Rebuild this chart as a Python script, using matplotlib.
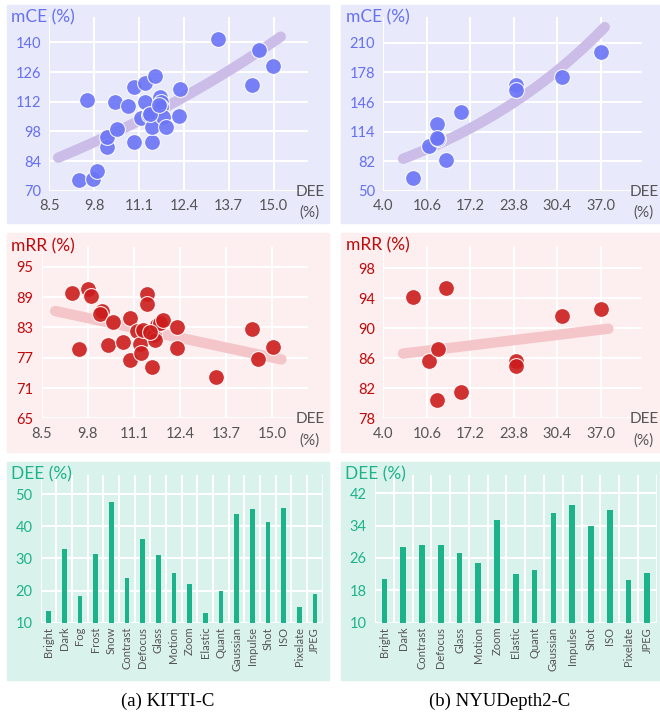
import matplotlib
matplotlib.use("Agg")
import matplotlib.pyplot as plt
import numpy as np
from matplotlib.patches import Rectangle

plt.rcParams['font.family'] = ['Lato', 'DejaVu Sans']

# KITTI-C scatter data (DEE %, mCE %, mRR %)
kitti_dee_ce = [13.38, 14.59, 14.99, 14.39, 9.60, 9.37, 9.77, 9.89, 10.18, 10.18, 10.46, 10.40, 10.78,
                10.97, 11.28, 11.57, 10.97, 11.49, 11.17, 11.28, 11.38, 11.49, 11.70, 11.74, 11.74,
                11.79, 11.89, 12.29, 12.27, 11.43, 11.69]
kitti_mce = [141.6, 136.4, 129.0, 119.7, 112.8, 75.0, 75.5, 79.4, 90.8, 95.5, 98.9, 112.0, 110.0,
             118.8, 120.7, 124.3, 93.1, 93.1, 104.1, 112.0, 105.7, 100.2, 114.4, 112.0, 109.6,
             104.9, 100.2, 117.8, 105.4, 106.2, 110.4]
kitti_dee_rr = [9.34, 9.79, 9.88, 9.56, 10.19, 10.14, 10.50, 10.38, 10.80, 10.99, 10.99, 11.17, 11.27,
                11.31, 11.47, 11.47, 11.60, 11.36, 11.66, 11.69, 11.74, 11.83, 11.92, 12.30, 12.30,
                13.41, 14.43, 14.58, 15.02, 11.55]
kitti_mrr = [89.9, 90.7, 89.3, 78.7, 86.2, 85.6, 84.0, 79.5, 80.2, 84.8, 76.5, 82.3, 79.8,
             77.9, 89.7, 87.6, 75.2, 82.5, 81.5, 80.5, 83.5, 83.8, 84.4, 83.1, 79.0,
             73.1, 82.6, 76.7, 79.2, 82.0]

# NYUDepth2-C scatter data
nyu_dee = [8.49, 10.98, 12.08, 12.37, 12.20, 13.47, 15.72, 24.19, 24.19, 31.07, 37.0]
nyu_mce = [63.4, 98.9, 122.4, 106.1, 107.5, 82.9, 134.7, 164.0, 159.3, 173.4, 199.9]
nyu_dee_rr = [8.49, 13.47, 10.98, 12.37, 12.08, 15.81, 24.19, 24.19, 31.07, 37.0]
nyu_mrr = [94.15, 95.3, 85.6, 87.2, 80.5, 81.5, 85.6, 85.0, 91.6, 92.5]

# per-corruption DEE
kitti_corr = ['Bright', 'Dark', 'Fog', 'Frost', 'Snow', 'Contrast', 'Defocus', 'Glass', 'Motion',
              'Zoom', 'Elastic', 'Quant', 'Gaussian', 'Impulse', 'Shot', 'ISO', 'Pixelate', 'JPEG']
kitti_dee = [13.6, 32.9, 18.4, 31.5, 47.5, 24.0, 36.1, 31.1, 25.4, 21.9, 13.1, 19.9,
             44.0, 45.3, 41.4, 45.8, 14.9, 18.8]
nyu_corr = ['Bright', 'Dark', 'Contrast', 'Defocus', 'Glass', 'Motion', 'Zoom', 'Elastic', 'Quant',
            'Gaussian', 'Impulse', 'Shot', 'ISO', 'Pixelate', 'JPEG']
nyu_dee_bar = [20.7, 28.6, 29.1, 29.3, 27.2, 24.8, 35.4, 22.0, 23.0, 37.0, 39.1, 34.0, 37.8, 20.5, 22.3]

W, H = 660, 721
fig = plt.figure(figsize=(W / 100, H / 100), dpi=100)

def box(l, t, r, b):
    return [l / W, 1 - b / H, (r - l) / W, (b - t) / H]

def panel(l, t, r, b, color):
    fig.patches.append(Rectangle((l / W, 1 - b / H), (r - l) / W, (b - t) / H,
                                 transform=fig.transFigure, color=color, zorder=-5))

blue_bg, red_bg, green_bg = '#E8EAFC', '#FDEEF0', '#DAF2EC'
blue, red, green = '#6570F2', '#C00A0A', '#1DB38A'
gray = '#555555'

panel(7, 5, 329, 223, blue_bg)
panel(341, 5, 660, 223, blue_bg)
panel(7, 233, 329, 452, red_bg)
panel(341, 233, 660, 452, red_bg)
panel(7, 462, 329, 680, green_bg)
panel(341, 462, 660, 680, green_bg)

def style(ax, ycolor):
    ax.set_facecolor('none')
    for s in ax.spines.values():
        s.set_visible(False)
    ax.grid(True, color='white', linewidth=1.5)
    ax.set_axisbelow(True)
    ax.tick_params(length=0, labelsize=10.5, pad=6)
    ax.tick_params(axis='y', colors=ycolor)
    ax.tick_params(axis='x', colors=gray)

def scatter_panel(pos, x, y, xticks, yticks, xlim, ylim, ycolor, mcolor, tcolor, ylabel, expfit,
                  xr, title_x, dee_x):
    ax = fig.add_axes(box(*pos))
    style(ax, ycolor)
    xs = np.linspace(xr[0], xr[1], 100)
    if expfit:
        coef = np.polyfit(x, np.log(y), 1)
        ys = np.exp(np.polyval(coef, xs))
    else:
        coef = np.polyfit(x, y, 1)
        ys = np.polyval(coef, xs)
    ax.plot(xs, ys, color=tcolor, lw=7.5, solid_capstyle='round', zorder=2)
    ax.scatter(x, y, s=130, color=mcolor, alpha=0.9, edgecolors='white', linewidths=0.8, zorder=3)
    ax.set_xticks(xticks)
    ax.set_xticklabels(['%.1f' % v for v in xticks])
    ax.set_yticks(yticks)
    ax.set_xlim(*xlim)
    ax.set_ylim(*ylim)
    t = pos[1]
    fig.text(title_x / W, 1 - (t + 0) / H, ylabel, color=ycolor, fontsize=12.5, va='center')
    fig.text(dee_x / W, 1 - (pos[3] + 1) / H, 'DEE', color=gray, fontsize=11, ha='right', va='center')
    fig.text((dee_x - 15) / W, 1 - (pos[3] + 22) / H, '(%)', color=gray, fontsize=11, ha='center', va='center')
    return ax

scatter_panel((49.3, 17, 308, 190.7), kitti_dee_ce, kitti_mce, [8.5, 9.8, 11.1, 12.4, 13.7, 15.0],
              [70, 84, 98, 112, 126, 140], (8.5, 16.0), (70, 152), blue, '#6A74F6', '#CBBDE8',
              'mCE (%)', True, (8.76, 15.21), 11, 325)
scatter_panel((383.3, 17, 642.3, 190.7), nyu_dee, nyu_mce, [4.0, 10.6, 17.2, 23.8, 30.4, 37.0],
              [50, 82, 114, 146, 178, 210], (4.0, 43.3), (50, 238), blue, '#6A74F6', '#CBBDE8',
              'mCE (%)', True, (7.0, 37.6), 346, 659)
scatter_panel((41.7, 246.7, 308, 418.3), kitti_dee_rr, kitti_mrr, [8.5, 9.8, 11.1, 12.4, 13.7, 15.0],
              [65, 71, 77, 83, 89, 95], (8.5, 16.0), (65, 99), red, '#CC1C1C', '#F4C6CA',
              'mRR (%)', False, (8.88, 15.25), 11, 325)
scatter_panel((383.3, 245.7, 642.3, 418.3), nyu_dee_rr, nyu_mrr, [4.0, 10.6, 17.2, 23.8, 30.4, 37.0],
              [78, 82, 86, 90, 94, 98], (4.0, 43.3), (78, 101), red, '#CC1C1C', '#F4C6CA',
              'mRR (%)', False, (7.0, 38.15), 346, 659)

def bar_panel(pos, names, vals, yticks, ylim, title_x):
    ax = fig.add_axes(box(*pos))
    style(ax, green)
    ax.grid(False)
    ax.yaxis.grid(True, color='white', linewidth=1.5)
    idx = np.arange(len(names))
    for b in np.arange(len(names) + 1) - 0.5:
        ax.axvline(b, color='white', lw=1.5, zorder=0)
    ax.bar(idx, np.array(vals) - ylim[0], bottom=ylim[0], width=0.3, color=green, zorder=3)
    ax.set_xticks(idx)
    ax.set_xticklabels(names, rotation=90, fontsize=8, color=gray)
    ax.tick_params(axis='x', pad=3)
    ax.set_yticks(yticks)
    ax.set_xlim(-0.5, len(names) - 0.5)
    ax.set_ylim(*ylim)
    fig.text(title_x / W, 1 - (pos[1] - 1) / H, 'DEE (%)', color=green, fontsize=12.5, va='center')

bar_panel((40.7, 475, 322.7, 622.7), kitti_corr, kitti_dee, [10, 20, 30, 40, 50], (10, 56), 11)
bar_panel((375, 475, 656.7, 622.7), nyu_corr, nyu_dee_bar, [10, 18, 26, 34, 42], (10, 46.5), 345)

fig.text(168 / W, 1 - 701 / H, '(a) KITTI-C', family='Liberation Serif', fontsize=13.5,
         ha='center', va='center')
fig.text(500 / W, 1 - 701 / H, '(b) NYUDepth2-C', family='Liberation Serif', fontsize=13.5,
         ha='center', va='center')

fig.savefig('out.png', dpi=100)
